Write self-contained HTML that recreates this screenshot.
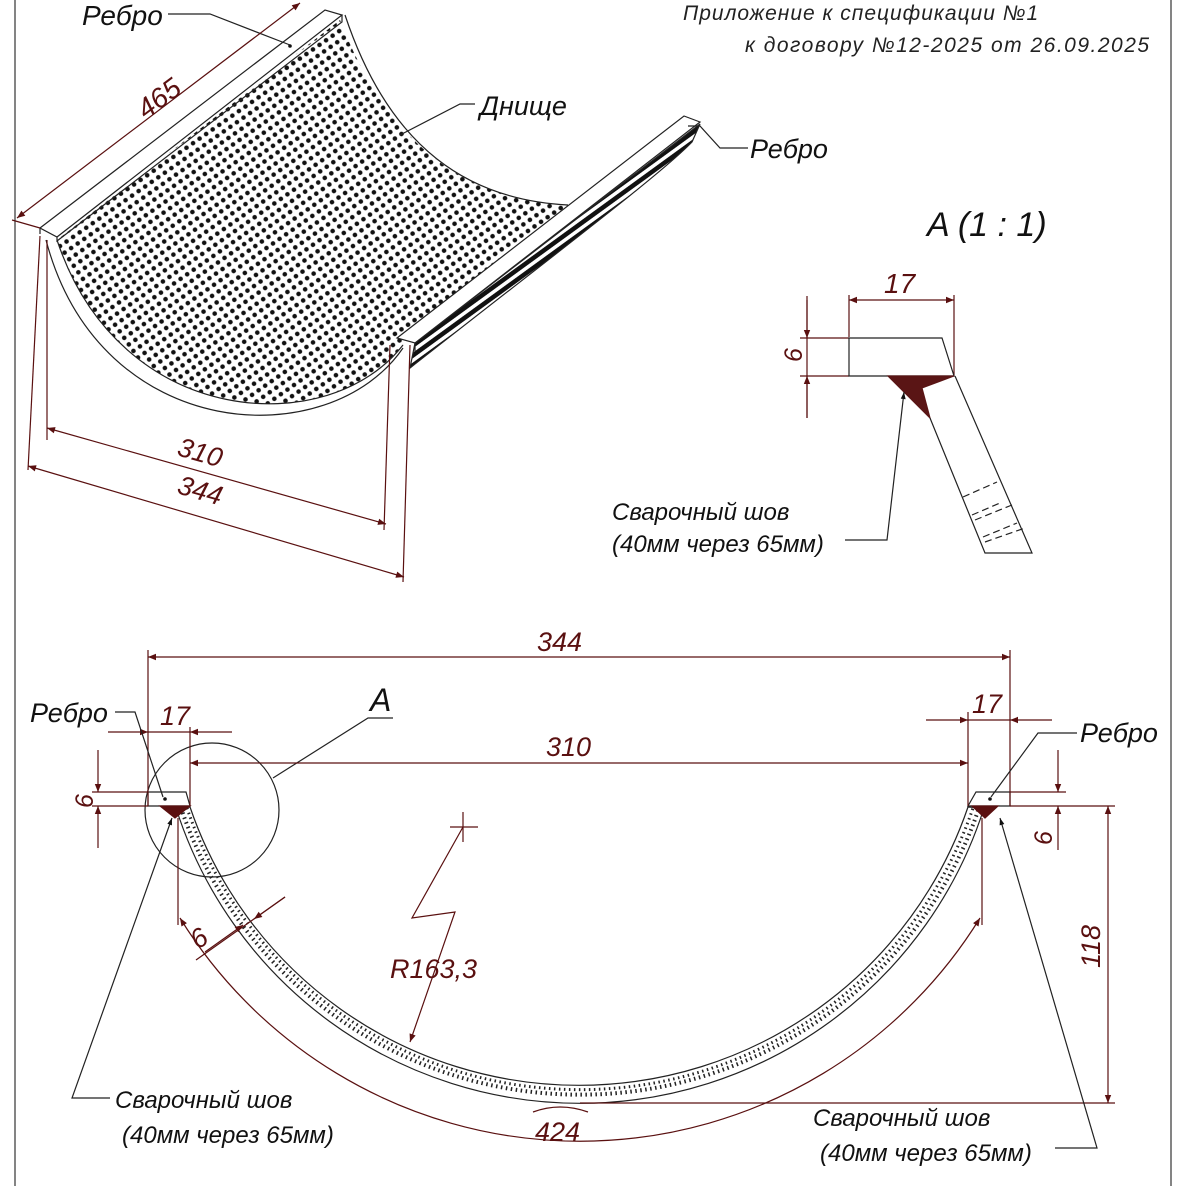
<!DOCTYPE html>
<html><head><meta charset="utf-8"><style>
html,body{margin:0;padding:0;background:#fff}
svg{display:block}
text{font-family:"Liberation Sans",sans-serif;font-style:italic}
</style></head><body>
<svg width="1179" height="1186" viewBox="0 0 1179 1186" xmlns="http://www.w3.org/2000/svg">
<defs>
<pattern id="dots" width="8" height="8" patternUnits="userSpaceOnUse" patternTransform="rotate(-35)">
<circle cx="4" cy="4" r="2.3" fill="#111"/>
</pattern>
<pattern id="hatch" width="8" height="8" patternUnits="userSpaceOnUse" patternTransform="rotate(-36)">
<rect width="8" height="4.5" fill="#111"/>
</pattern>
<marker id="ar" viewBox="0 0 10 10" refX="10" refY="5" markerWidth="17" markerHeight="8" orient="auto-start-reverse" markerUnits="userSpaceOnUse"><path d="M0,1 L10,5 L0,9z" fill="#5a1010"/></marker>
<marker id="ab" viewBox="0 0 10 10" refX="10" refY="5" markerWidth="15" markerHeight="7" orient="auto" markerUnits="userSpaceOnUse"><path d="M0,1.5 L10,5 L0,8.5z" fill="#111"/></marker>
</defs>
<g fill="none" stroke-width="1.2">
<line x1="15" y1="0" x2="15" y2="1186" stroke="#333"/>
<line x1="1171" y1="0" x2="1171" y2="1186" stroke="#333"/>

<!-- ISO VIEW -->
<path d="M57,240 L340,20 C390,150 470,200 568,205 L403,345 C330,440 120,430 57,240Z" fill="url(#dots)" stroke="none"/>
<path d="M345,15 C390,150 470,200 568,205" stroke="#222"/>
<path d="M46,240 C100,445 330,455 403,348" stroke="#222"/>
<path d="M57,240 C120,430 330,440 403,345" stroke="#222"/>
<path d="M415,343 L700,124 L692,142 C660,175 560,250 410,368Z" fill="url(#hatch)" stroke="#222"/>
<path d="M397,338 L684,116 L700,122 L415,343Z" fill="#fff" stroke="#222"/>
<line x1="415" y1="343" x2="415" y2="352" stroke="#222"/>
<path d="M40,228 L325,10 L342,15 L57,237Z" fill="#fff" stroke="#222"/>
<path d="M57,237 L57,241 L342,22 L342,15" stroke="#222"/>
<line x1="40" y1="228" x2="40" y2="234" stroke="#222"/>
<path d="M168,14 L210,14 L290,45" stroke="#222"/>
<circle cx="290" cy="46" r="1.8" fill="#111"/>
<text x="82" y="25" font-size="28" fill="#111">Ребро</text>
<path d="M400,135 L460,104 L475,104" stroke="#222"/>
<text x="480" y="115" font-size="27" fill="#111">Днище</text>
<path d="M688,126 L700,126 L720,148 L748,148" stroke="#222"/>
<text x="750" y="158" font-size="27" fill="#111">Ребро</text>
<g stroke="#5a1010">
<line x1="17" y1="218" x2="300" y2="3" marker-start="url(#ar)" marker-end="url(#ar)"/>
<line x1="12" y1="220" x2="40" y2="228"/>
</g>
<text x="0" y="0" font-size="28" fill="#5a1010" transform="translate(146,120) rotate(-37)">465</text>
<g stroke="#5a1010">
<line x1="47" y1="240" x2="47" y2="440"/>
<line x1="40" y1="236" x2="28" y2="470"/>
<line x1="390" y1="345" x2="384" y2="530"/>
<line x1="410" y1="345" x2="403" y2="582"/>
<line x1="47" y1="428" x2="386" y2="524" marker-start="url(#ar)" marker-end="url(#ar)"/>
<line x1="28" y1="466" x2="404" y2="577" marker-start="url(#ar)" marker-end="url(#ar)"/>
</g>
<text transform="translate(176,455) rotate(16)" font-size="27" fill="#5a1010">310</text>
<text transform="translate(176,493) rotate(16)" font-size="27" fill="#5a1010">344</text>

<text x="683" y="20" font-size="21" fill="#222" letter-spacing="1">Приложение к спецификации №1</text>
<text x="745" y="52" font-size="21" fill="#222" letter-spacing="1.5">к договору №12-2025  от 26.09.2025</text>

<!-- DETAIL A -->
<text x="927" y="236" font-size="34" fill="#111">A (1 : 1)</text>
<g stroke="#5a1010">
<line x1="849" y1="295" x2="849" y2="337"/>
<line x1="954" y1="295" x2="954" y2="376"/>
<line x1="849" y1="300" x2="954" y2="300" marker-start="url(#ar)" marker-end="url(#ar)"/>
<line x1="800" y1="338" x2="849" y2="338"/>
<line x1="800" y1="376" x2="849" y2="376"/>
<line x1="807" y1="296" x2="807" y2="418"/>
<line x1="807" y1="300" x2="807" y2="338" marker-end="url(#ar)"/>
<line x1="807" y1="418" x2="807" y2="376" marker-end="url(#ar)"/>
</g>
<text transform="translate(802,362) rotate(-90)" font-size="25" fill="#5a1010">6</text>
<text x="884" y="293" font-size="28" fill="#5a1010">17</text>
<path d="M849,338 L942,338 L954,376 L849,376Z" stroke="#222"/>
<path d="M888,376 L954,376 L922,388 L930,418Z" fill="#5a1515" stroke="#5a1515"/>
<path d="M930,418 L985,553 L1032,553 L955,376" stroke="#222"/>
<g stroke="#222" stroke-dasharray="7,4">
<line x1="963" y1="497" x2="997" y2="482"/><line x1="972" y1="515" x2="1000" y2="503"/>
<line x1="975" y1="520" x2="1012" y2="505"/><line x1="983" y1="537" x2="1017" y2="523"/>
<line x1="985" y1="542" x2="1025" y2="528"/>
</g>
<path d="M845,540 L887,540 L904,392" stroke="#222" marker-end="url(#ab)"/>
<text x="612" y="520" font-size="24" fill="#111">Сварочный шов</text>
<text x="612" y="552" font-size="24" fill="#111">(40мм через 65мм)</text>

<!-- FRONT VIEW -->
<path d="M176,808 A424,424 0 0 0 984,808 L968,807 A411,411 0 0 1 190,807Z" fill="#fff" stroke="#222"/>
<path d="M181,808 A421,421 0 0 0 979,808" stroke="#222" stroke-dasharray="1.5,3.5" stroke-width="4"/>
<path d="M187,808 A415,415 0 0 0 973,808" stroke="#222" stroke-dasharray="1.5,3.5" stroke-width="3"/>
<path d="M148,792 L186,792 L190,806 L148,806Z" fill="#fff" stroke="#222"/>
<path d="M976,792 L1010,792 L1010,806 L968,806Z" fill="#fff" stroke="#222"/>
<path d="M160,806 L190,806 L175,818Z" fill="#5a1010" stroke="#5a1010"/>
<path d="M972,806 L998,806 L985,818Z" fill="#5a1010" stroke="#5a1010"/>
<circle cx="165" cy="799" r="1.8" fill="#111"/>
<circle cx="990" cy="799" r="1.8" fill="#111"/>
<circle cx="212" cy="810" r="67" stroke="#222"/>
<path d="M273,778 L368,718 L393,718" stroke="#222"/>
<text x="370" y="711" font-size="32" fill="#111">A</text>
<g stroke="#5a1010">
<line x1="148" y1="650" x2="148" y2="806"/>
<line x1="1010" y1="650" x2="1010" y2="806"/>
<line x1="148" y1="657" x2="1010" y2="657" marker-start="url(#ar)" marker-end="url(#ar)"/>
<line x1="190" y1="727" x2="190" y2="806"/>
<line x1="968" y1="712" x2="968" y2="806"/>
<line x1="190" y1="763" x2="968" y2="763" marker-start="url(#ar)" marker-end="url(#ar)"/>
<line x1="108" y1="732" x2="148" y2="732" marker-end="url(#ar)"/>
<line x1="232" y1="732" x2="190" y2="732" marker-end="url(#ar)"/>
<line x1="148" y1="732" x2="190" y2="732"/>
<line x1="926" y1="720" x2="968" y2="720" marker-end="url(#ar)"/>
<line x1="1052" y1="720" x2="1010" y2="720" marker-end="url(#ar)"/>
<line x1="968" y1="720" x2="1010" y2="720"/>
<line x1="92" y1="792" x2="148" y2="792"/>
<line x1="92" y1="806" x2="148" y2="806"/>
<line x1="98" y1="750" x2="98" y2="792" marker-end="url(#ar)"/>
<line x1="98" y1="848" x2="98" y2="806" marker-end="url(#ar)"/>
<line x1="1010" y1="792" x2="1066" y2="792"/>
<line x1="1010" y1="806" x2="1115" y2="806"/>
<line x1="1058" y1="750" x2="1058" y2="792" marker-end="url(#ar)"/>
<line x1="1058" y1="850" x2="1058" y2="806" marker-end="url(#ar)"/>
<line x1="580" y1="1103" x2="1115" y2="1103"/>
<line x1="1108" y1="806" x2="1108" y2="1103" marker-start="url(#ar)" marker-end="url(#ar)"/>
<line x1="178" y1="818" x2="178" y2="925"/>
<line x1="982" y1="818" x2="982" y2="925"/>
<path d="M180,918 A470,470 0 0 0 980,918" marker-start="url(#ar)" marker-end="url(#ar)"/>
<line x1="196" y1="960" x2="285" y2="897"/>
<line x1="205" y1="952" x2="243" y2="925" marker-end="url(#ar)"/>
<line x1="285" y1="897" x2="254" y2="919" marker-end="url(#ar)"/>
<path d="M463,812 L463,842 M450,827 L478,827"/>
<path d="M463,827 L412,918 L455,912 L410,1042" marker-end="url(#ar)"/>
<path d="M533,1112 Q560,1102 588,1112"/>
</g>
<text x="160" y="725" font-size="27" fill="#5a1010">17</text>
<text x="972" y="713" font-size="27" fill="#5a1010">17</text>
<text x="537" y="651" font-size="27" fill="#5a1010">344</text>
<text x="546" y="756" font-size="27" fill="#5a1010">310</text>
<text transform="translate(93,808) rotate(-90)" font-size="25" fill="#5a1010">6</text>
<text transform="translate(1052,845) rotate(-90)" font-size="25" fill="#5a1010">6</text>
<text transform="translate(1100,968) rotate(-90)" font-size="27" fill="#5a1010">118</text>
<text transform="translate(198,950) rotate(-35)" font-size="27" fill="#5a1010">6</text>
<text x="390" y="978" font-size="27" fill="#5a1010">R163,3</text>
<text x="535" y="1141" font-size="27" fill="#5a1010">424</text>
<path d="M115,712 L135,712 L163,797" stroke="#222"/>
<text x="30" y="722" font-size="27" fill="#111">Ребро</text>
<path d="M1077,733 L1038,733 L991,797" stroke="#222"/>
<text x="1080" y="742" font-size="27" fill="#111">Ребро</text>
<path d="M110,1098 L72,1098 L172,818" stroke="#222" marker-end="url(#ab)"/>
<text x="115" y="1108" font-size="24" fill="#111">Сварочный шов</text>
<text x="122" y="1143" font-size="24" fill="#111">(40мм через 65мм)</text>
<path d="M1055,1148 L1097,1148 L1000,818" stroke="#222" marker-end="url(#ab)"/>
<text x="813" y="1126" font-size="24" fill="#111">Сварочный шов</text>
<text x="820" y="1161" font-size="24" fill="#111">(40мм через 65мм)</text>
</g>
</svg>
</body></html>
